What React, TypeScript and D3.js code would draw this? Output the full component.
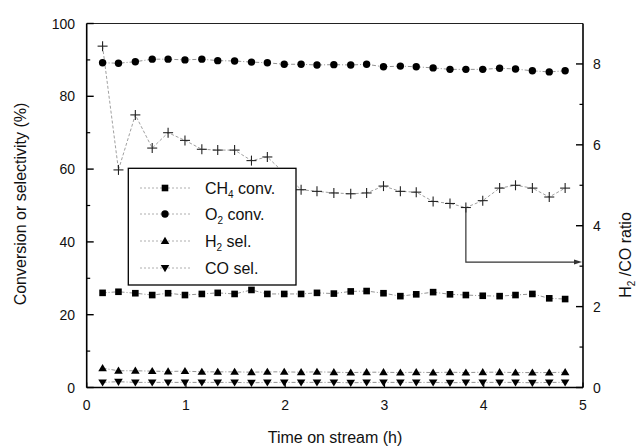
import React from "react";
import * as d3 from "d3";

// time on stream (h)
const times = [
  0.16, 0.32, 0.49, 0.66, 0.82, 0.99, 1.16, 1.32, 1.49, 1.66, 1.82, 1.99, 2.16, 2.32, 2.49,
  2.66, 2.82, 2.99, 3.16, 3.32, 3.49, 3.66, 3.82, 3.99, 4.16, 4.32, 4.49, 4.66, 4.82,
];
const ch4Conv = [
  26.0, 26.3, 25.9, 25.4, 25.9, 25.4, 25.7, 26.0, 25.7, 26.8, 25.7, 25.7, 25.7, 26.0, 25.8,
  26.4, 26.5, 25.9, 25.1, 25.6, 26.2, 25.6, 25.4, 25.2, 25.1, 25.4, 25.7, 24.5, 24.3,
];
const o2Conv = [
  89.2, 89.1, 89.5, 90.2, 90.2, 90.0, 90.2, 89.8, 89.7, 89.4, 89.2, 88.8, 88.8, 88.6, 88.7,
  88.6, 88.8, 88.1, 88.3, 88.1, 87.8, 87.4, 87.4, 87.4, 87.7, 87.5, 87.0, 86.7, 87.0,
];
const h2Sel = [
  5.3, 4.6, 4.6, 4.5, 4.4, 4.5, 4.3, 4.3, 4.3, 4.2, 4.3, 4.3, 4.2, 4.3, 4.2, 4.1, 4.2, 4.2,
  4.1, 4.2, 4.1, 4.2, 4.1, 4.2, 4.2, 4.1, 4.1, 4.1, 4.2,
];
const coSel = [
  1.4, 1.6, 1.4, 1.4, 1.4, 1.4, 1.4, 1.4, 1.4, 1.3, 1.4, 1.4, 1.4, 1.4, 1.4, 1.3, 1.4, 1.4,
  1.4, 1.4, 1.4, 1.3, 1.4, 1.4, 1.4, 1.4, 1.3, 1.4, 1.4,
];
const h2CoRatio = [
  8.44, 5.38, 6.74, 5.92, 6.3, 6.11, 5.89, 5.87, 5.87, 5.61, 5.7, 5.3, 4.89, 4.85, 4.81,
  4.79, 4.81, 4.98, 4.85, 4.83, 4.6, 4.55, 4.45, 4.62, 4.93, 5.0, 4.93, 4.71, 4.93,
];

const xTicks = [0, 1, 2, 3, 4, 5];
const leftTicks = [0, 20, 40, 60, 80, 100];
const leftMinor = [10, 30, 50, 70, 90];
const rightTicks = [0, 2, 4, 6, 8];
const rightMinor = [1, 3, 5, 7];

// arrow pointing the ratio series to its axis
const arrowPointIndex = 22;
const arrowLevel = 3.1;

const W = 644;
const H = 448;
const margin = { left: 86.7, right: 61, top: 23.5, bottom: 60.5 };
const font = "'Liberation Sans', Arial, sans-serif";

const x = d3.scaleLinear().domain([0, 5]).range([margin.left, W - margin.right]);
const yL = d3.scaleLinear().domain([0, 100]).range([H - margin.bottom, margin.top]);
const yR = d3.scaleLinear().domain([0, 9]).range([H - margin.bottom, margin.top]);

type Marker = "square" | "circle" | "up" | "down";

const drawMarker = (kind: Marker, cx: number, cy: number, key: string | number) => {
  if (kind === "square") return <rect key={key} x={cx - 3.3} y={cy - 3.3} width={6.6} height={6.6} fill="#000" />;
  if (kind === "circle") return <circle key={key} cx={cx} cy={cy} r={3.7} fill="#000" />;
  if (kind === "up")
    return <path key={key} d={`M${cx},${cy - 4.2}L${cx + 4.3},${cy + 3}L${cx - 4.3},${cy + 3}Z`} fill="#000" />;
  return <path key={key} d={`M${cx},${cy + 4.2}L${cx + 4.3},${cy - 3}L${cx - 4.3},${cy - 3}Z`} fill="#000" />;
};

const leftSeries: { name: string; sub?: string; rest: string; values: number[]; marker: Marker }[] = [
  { name: "CH", sub: "4", rest: " conv.", values: ch4Conv, marker: "square" },
  { name: "O", sub: "2", rest: " conv.", values: o2Conv, marker: "circle" },
  { name: "H", sub: "2", rest: " sel.", values: h2Sel, marker: "up" },
  { name: "CO sel.", rest: "", values: coSel, marker: "down" },
];

const App = () => {
  const lineL = (vals: number[]) =>
    d3.line<number>().x((_, i) => x(times[i])).y((d) => yL(d))(vals) ?? "";
  const ratioLine = d3.line<number>().x((_, i) => x(times[i])).y((d) => yR(d))(h2CoRatio) ?? "";

  const x0 = x(0);
  const x1 = x(5);
  const yb = yL(0);
  const yt = yL(100);

  const ax = x(times[arrowPointIndex]);
  const ay = yR(h2CoRatio[arrowPointIndex]);
  const aLow = yR(arrowLevel);

  const legendRows = [188, 214, 241, 268];

  return (
    <svg width={W} height={H} style={{ position: "absolute", left: 0, top: 0, background: "#fff" }}>
      {/* series lines */}
      {leftSeries.map((s) => (
        <path key={s.name} d={lineL(s.values)} fill="none" stroke="#777" strokeWidth={0.8} strokeDasharray="4,2,1,2" />
      ))}
      <path d={ratioLine} fill="none" stroke="#888" strokeWidth={0.8} strokeDasharray="3,2" />

      {/* markers */}
      {leftSeries.map((s) => (
        <g key={s.name + "m"}>{s.values.map((v, i) => drawMarker(s.marker, x(times[i]), yL(v), i))}</g>
      ))}
      <g stroke="#222" strokeWidth={1.1}>
        {h2CoRatio.map((v, i) => (
          <g key={i}>
            <line x1={x(times[i]) - 5} x2={x(times[i]) + 5} y1={yR(v)} y2={yR(v)} />
            <line x1={x(times[i])} x2={x(times[i])} y1={yR(v) - 5} y2={yR(v) + 5} />
          </g>
        ))}
      </g>

      {/* arrow */}
      <path d={`M${ax},${ay}V${aLow}H${x1 - 7}`} fill="none" stroke="#333" strokeWidth={1.2} />
      <path d={`M${x1 - 1},${aLow}L${x1 - 9},${aLow - 2.5}L${x1 - 9},${aLow + 2.5}Z`} fill="#333" />

      {/* legend */}
      <rect x={128.3} y={168.3} width={167.7} height={116.7} fill="#fff" stroke="#000" strokeWidth={1.3} />
      {leftSeries.map((s, i) => (
        <g key={s.name + "l"}>
          <line x1={140} x2={190} y1={legendRows[i]} y2={legendRows[i]} stroke="#999" strokeWidth={0.8} strokeDasharray="2,2" />
          {drawMarker(s.marker, 165, legendRows[i], "lm")}
          <text x={205} y={legendRows[i] + 5.5} fontFamily={font} fontSize={16} fill="#111">
            {s.name}
            {s.sub && (
              <tspan fontSize={10} dy={4}>
                {s.sub}
              </tspan>
            )}
            {s.rest && <tspan dy={s.sub ? -4 : 0}>{s.rest}</tspan>}
          </text>
        </g>
      ))}

      {/* frame */}
      <line x1={x0} x2={x1} y1={yt} y2={yt} stroke="#222" strokeWidth={1.2} />
      <line x1={x0} x2={x0} y1={yt} y2={yb} stroke="#000" strokeWidth={1.6} />
      <line x1={x1} x2={x1} y1={yt} y2={yb} stroke="#000" strokeWidth={1.6} />
      <line x1={x0} x2={x1} y1={yb} y2={yb} stroke="#000" strokeWidth={1.6} />

      {/* left axis */}
      {leftTicks.map((t) => (
        <g key={"l" + t}>
          <line x1={x0} x2={x0 + 7} y1={yL(t)} y2={yL(t)} stroke="#000" strokeWidth={1.4} />
          <text x={75} y={yL(t) + 5} textAnchor="end" fontFamily={font} fontSize={14} fill="#111">
            {t}
          </text>
        </g>
      ))}
      {leftMinor.map((t) => (
        <line key={"lm" + t} x1={x0} x2={x0 + 3.5} y1={yL(t)} y2={yL(t)} stroke="#000" strokeWidth={1.2} />
      ))}

      {/* right axis */}
      {rightTicks.map((t) => (
        <g key={"r" + t}>
          <line x1={x1} x2={x1 - 7} y1={yR(t)} y2={yR(t)} stroke="#000" strokeWidth={1.4} />
          <text x={593} y={yR(t) + 5} fontFamily={font} fontSize={14} fill="#111">
            {t}
          </text>
        </g>
      ))}
      {rightMinor.map((t) => (
        <line key={"rm" + t} x1={x1} x2={x1 - 3.5} y1={yR(t)} y2={yR(t)} stroke="#000" strokeWidth={1.2} />
      ))}

      {/* bottom axis */}
      {xTicks.map((t) => (
        <g key={"x" + t}>
          <line x1={x(t)} x2={x(t)} y1={yb} y2={yb - 5} stroke="#000" strokeWidth={1.2} />
          <text x={x(t)} y={410} textAnchor="middle" fontFamily={font} fontSize={14} fill="#111">
            {t}
          </text>
        </g>
      ))}

      {/* axis titles */}
      <text x={335} y={443} textAnchor="middle" fontFamily={font} fontSize={16} fill="#111">
        Time on stream (h)
      </text>
      <text
        transform={`translate(26,${204}) rotate(-90)`}
        textAnchor="middle"
        fontFamily={font}
        fontSize={16}
        fill="#111"
      >
        Conversion or selectivity (%)
      </text>
      <text
        transform={`translate(631,${255}) rotate(-90)`}
        textAnchor="middle"
        fontFamily={font}
        fontSize={16}
        fill="#111"
      >
        H<tspan fontSize={10} dy={4}>2</tspan>
        <tspan dy={-4}> /CO ratio</tspan>
      </text>
    </svg>
  );
};

export default App;
